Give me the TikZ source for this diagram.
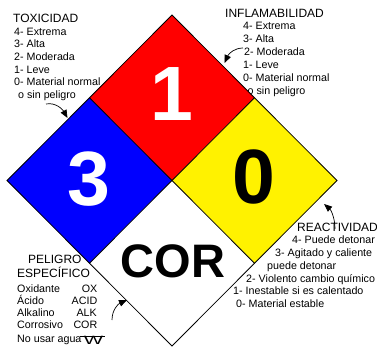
\documentclass[tikz,border=0pt]{standalone}
\usepackage{fontspec}
\setmainfont{Liberation Sans}
\usetikzlibrary{arrows.meta}
\begin{document}
\begin{tikzpicture}[x=1pt,y=-1pt,
  ttl/.style={anchor=base west, inner sep=0pt, font=\fontsize{12}{14}\selectfont},
  bdy/.style={anchor=base west, inner sep=0pt, font=\fontsize{10.7}{12}\selectfont},
  bdyr/.style={anchor=base east, inner sep=0pt, font=\fontsize{10.7}{12}\selectfont},
  num/.style={anchor=base, inner sep=0pt, font=\fontsize{77}{80}\selectfont\bfseries},
  cor/.style={anchor=base, inner sep=0pt, font=\fontsize{47}{50}\selectfont\bfseries},
  edge/.style={draw=black, line width=0.8pt, line join=miter},
  arr/.style={-{Triangle[length=8pt,width=6.5pt]}, line width=0.7pt}]
\useasboundingbox (0,0) rectangle (377,349);
\clip (0,0) rectangle (377,349);
% coordinates
\coordinate (T) at (172,15);
\coordinate (C) at (172,180.5);
\coordinate (L) at (7,180.5);
\coordinate (R) at (337,180.5);
\coordinate (B) at (172,346);
\coordinate (TL) at (89.5,97.75);
\coordinate (TR) at (254.5,97.75);
\coordinate (BL) at (89.5,263.25);
\coordinate (BR) at (254.5,263.25);
% texts: toxicidad
\node[ttl] (tox) at (13,22.5) {TOXICIDAD};
\node[bdy] (tox4) at (14,35) {4- Extrema};
\node[bdy] (tox3) at (14,47.7) {3- Alta};
\node[bdy] (tox2) at (14,60.3) {2- Moderada};
\node[bdy] (tox1) at (14,73) {1- Leve};
\node[bdy] (tox0) at (14,85.7) {0- Material normal};
\node[bdy] (toxo) at (18,98.3) {o sin peligro};
% inflamabilidad
\node[ttl] (inf) at (225,17.5) {INFLAMABILIDAD};
\node[bdy] (inf4) at (243,29.5) {4- Extrema};
\node[bdy] (inf3) at (243,42.3) {3- Alta};
\node[bdy] (inf2) at (244,55) {2- Moderada};
\node[bdy] (inf1) at (243,68) {1- Leve};
\node[bdy] (inf0) at (243,81) {0- Material normal};
\node[bdy] (info) at (247.5,94) {o sin peligro};
% reactividad
\node[ttl] (rea) at (297,231.5) {REACTIVIDAD};
\node[bdy] (rea4) at (292,243.5) {4- Puede detonar};
\node[bdy] (rea3) at (275,256.5) {3- Agitado y caliente};
\node[bdy] (rea3b) at (267,269) {puede detonar};
\node[bdy] (rea2) at (246,282) {2- Violento cambio químico};
\node[bdy] (rea1) at (233,294.5) {1- Inestable si es calentado};
\node[bdy] (rea0) at (236,307) {0- Material estable};
% peligro especifico
\node[ttl] (pel) at (28,263) {PELIGRO};
\node[ttl] (esp) at (17,277) {ESPECÍFICO};
\node[bdy] (oxi) at (17,292) {Oxidante};
\node[bdyr] (oxi2) at (97.5,292) {OX};
\node[bdy] (aci) at (17,304) {Ácido};
\node[bdyr] (aci2) at (97.5,304) {ACID};
\node[bdy] (alk) at (17,316) {Alkalino};
\node[bdyr] (alk2) at (97,316) {ALK};
\node[bdy] (cor) at (17,328) {Corrosivo};
\node[bdyr] (cor2) at (97.5,328) {COR};
\node[bdy] (agua) at (17,342) {No usar agua};
\node[anchor=base, inner sep=0pt, font=\fontsize{12}{14}\selectfont, xscale=1.7] (W) at (93.5,344) {W};
\coordinate (ws) at (80,336);
\coordinate (we) at (105,336);
\draw[line width=0.7pt] (ws) -- (we);
% diamond
\fill[red] (T) -- (TR) -- (C) -- (TL) -- cycle;
\fill[blue] (TL) -- (C) -- (BL) -- (L) -- cycle;
\fill[yellow] (TR) -- (R) -- (BR) -- (C) -- cycle;
\fill[white] (C) -- (BR) -- (B) -- (BL) -- cycle;
\draw[edge] (T) -- (R) -- (B) -- (L) -- cycle;
\draw[edge] (TL) -- (BR);
\draw[edge] (TR) -- (BL);
% numbers
\node[num, text=white] (n1) at (172,120) {1};
\node[num, text=white] (n3) at (89,205) {3};
\node[num, text=black] (n0) at (254,203) {0};
\node[cor] (ncor) at (173,277) {COR};
% arrows
\coordinate (a1s) at (46,104);
\coordinate (a1e) at (67.5,118);
\draw[arr] (a1s) .. controls (56,102) and (63,110) .. (a1e);
\coordinate (a2s) at (243,48);
\coordinate (a2e) at (224.5,63);
\draw[arr] (a2s) .. controls (235,48) and (229,53) .. (a2e);
\coordinate (a3s) at (335,229);
\coordinate (a3e) at (324,204);
\draw[arr] (a3s) .. controls (335,218) and (331,210) .. (a3e);
\coordinate (a4s) at (112,320);
\coordinate (a4e) at (127,300);
\draw[arr] (a4s) .. controls (112,310) and (118,304) .. (a4e);
\end{tikzpicture}
\end{document}
